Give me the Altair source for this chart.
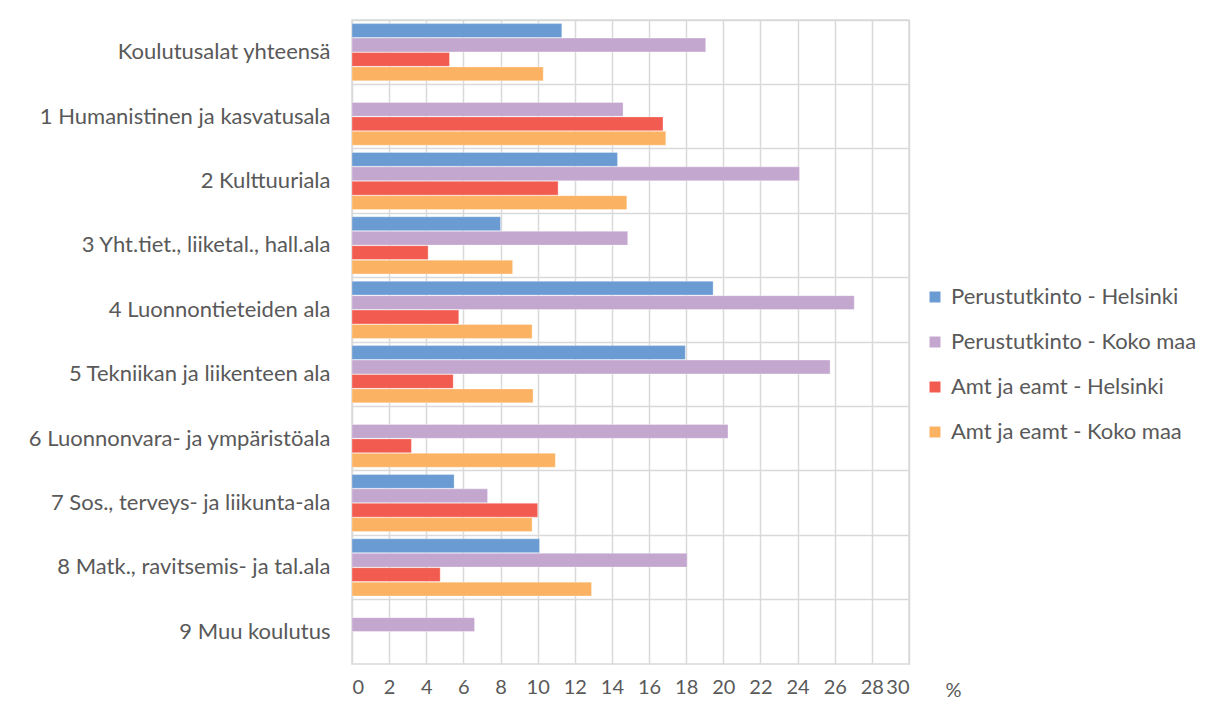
import altair as alt
import pandas as pd

categories = [
    "Koulutusalat yhteensä",
    "1 Humanistinen ja kasvatusala",
    "2 Kulttuuriala",
    "3 Yht.tiet., liiketal., hall.ala",
    "4 Luonnontieteiden ala",
    "5 Tekniikan ja liikenteen ala",
    "6 Luonnonvara- ja ympäristöala",
    "7 Sos., terveys- ja liikunta-ala",
    "8 Matk., ravitsemis- ja tal.ala",
    "9 Muu koulutus",
]
series = [
    "Perustutkinto - Helsinki",
    "Perustutkinto - Koko maa",
    "Amt ja eamt - Helsinki",
    "Amt ja eamt - Koko maa",
]
colors = ["#6a9bd3", "#c4a7cf", "#f25c50", "#fbb262"]

perus_hki = [11.3, None, 14.3, 8.0, 19.45, 17.95, None, 5.5, 10.1, None]
perus_koko = [19.05, 14.6, 24.1, 14.85, 27.05, 25.75, 20.25, 7.3, 18.05, 6.6]
amt_hki = [5.25, 16.75, 11.1, 4.1, 5.75, 5.45, 3.2, 10.0, 4.75, None]
amt_koko = [10.3, 16.9, 14.8, 8.65, 9.7, 9.75, 10.95, 9.7, 12.9, None]
x_ticks = list(range(0, 31, 2))

rows = []
for s, vals in zip(series, [perus_hki, perus_koko, amt_hki, amt_koko]):
    for c, v in zip(categories, vals):
        if v is not None:
            rows.append({"ala": c, "sarja": s, "arvo": v})
df = pd.DataFrame(rows)

font = "Lato"
gray = "#595959"

chart = alt.Chart(df).mark_bar(stroke="white", strokeWidth=0.6, strokeOpacity=0.5).encode(
    x=alt.X(
        "arvo:Q",
        scale=alt.Scale(domain=[0, 30], nice=False),
        axis=alt.Axis(
            values=x_ticks,
            title="%",
            titleX=601,
            titleY=16,
            titleBaseline="top",
            titleFontWeight="normal",
            titleFontSize=20,
            titleColor=gray,
            titleFont=font,
            labelFont=font,
            labelFontSize=20,
            labelColor=gray,
            labelPadding=13,
            labelOverlap=False,
            ticks=False,
            domain=False,
            grid=True,
            gridColor="#d9d9d9",
            gridWidth=1.5,
        ),
    ),
    y=alt.Y(
        "ala:N",
        sort=categories,
        scale=alt.Scale(paddingInner=0, paddingOuter=0),
        axis=alt.Axis(
            title=None,
            labelFont=font,
            labelFontSize=22,
            labelColor=gray,
            labelPadding=22,
            ticks=False,
            domain=False,
            grid=True,
            bandPosition=0,
            gridColor="#d9d9d9",
            gridWidth=1.5,
            labelLimit=400,
        ),
    ),
    yOffset=alt.YOffset(
        "sarja:N",
        sort=series,
        scale=alt.Scale(paddingInner=0.04, paddingOuter=0.25),
    ),
    color=alt.Color(
        "sarja:N",
        sort=series,
        scale=alt.Scale(domain=series, range=colors),
        legend=alt.Legend(
            title=None,
            orient="none",
            legendX=572,
            legendY=266,
            symbolType="square",
            symbolSize=121,
            symbolStrokeWidth=0,
            labelFont=font,
            labelFontSize=22,
            labelColor=gray,
            labelLimit=400,
            rowPadding=23,
            labelOffset=5,
        ),
    ),
).properties(
    width=557,
    height=644,
    autosize=alt.AutoSizeParams(type="none"),
    padding={"left": 344, "top": 12, "right": 295, "bottom": 36},
).configure_view(
    stroke="#d9d9d9",
    strokeWidth=1.5,
)

chart.save("out.html", embed_options={"renderer": "svg", "actions": False})
